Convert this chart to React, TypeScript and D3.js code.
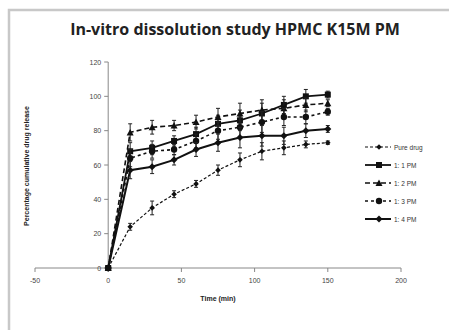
import React from 'react';
import * as d3 from 'd3';

const times = [0, 15, 30, 45, 60, 75, 90, 105, 120, 135, 150];
const seriesNames = ['Pure drug', '1: 1 PM', '1: 2 PM', '1: 3 PM', '1: 4 PM'];
const pureDrug = [0, 24, 35, 43, 49, 57, 63, 68, 70, 72, 73];
const pm11 = [0, 68, 70, 74, 78, 84, 86, 90, 95, 100, 101];
const pm12 = [0, 79, 82, 83, 85, 88, 90, 92, 93, 95, 96];
const pm13 = [0, 64, 68, 69, 74, 80, 82, 85, 88, 88, 91];
const pm14 = [0, 57, 59, 63, 69, 73, 76, 77, 77, 80, 81];
const errPure = [0, 2, 4, 2, 2, 3, 4, 5, 4, 2, 1];
const errPm = [0, 5, 4, 3, 4, 5, 6, 6, 5, 4, 2];
const xTicks = [-50, 0, 50, 100, 150, 200];
const yTicks = [0, 20, 40, 60, 80, 100, 120];

const styles = [
  { dash: '3,2', width: 1.2, marker: 'diamondSmall' },
  { dash: null, width: 1.8, marker: 'square' },
  { dash: '5,3', width: 1.6, marker: 'triangle' },
  { dash: '3,3', width: 1.6, marker: 'circle' },
  { dash: null, width: 2, marker: 'diamond' },
];

const Marker = ({ type, x, y }) => {
  if (type === 'square') return <rect x={x - 3} y={y - 3} width={6} height={6} fill="#111" />;
  if (type === 'triangle') return <path d={`M${x},${y - 3.5}L${x + 3.5},${y + 3}L${x - 3.5},${y + 3}Z`} fill="#111" />;
  if (type === 'circle') return <circle cx={x} cy={y} r={3.2} fill="#111" />;
  if (type === 'diamondSmall') return <path d={`M${x},${y - 2.8}L${x + 2.8},${y}L${x},${y + 2.8}L${x - 2.8},${y}Z`} fill="#111" />;
  return <path d={`M${x},${y - 3.5}L${x + 3.5},${y}L${x},${y + 3.5}L${x - 3.5},${y}Z`} fill="#111" />;
};

export default function App() {
  const x = d3.scaleLinear().domain([-50, 200]).range([35, 401]);
  const y = d3.scaleLinear().domain([0, 120]).range([268, 62]);
  const allSeries = [pureDrug, pm11, pm12, pm13, pm14];
  const errs = [errPure, errPm, errPm, errPm, errPm];
  const line = d3.line<number>().x((d, i) => x(times[i])).y(d => y(d));
  const font = 'Liberation Sans, Arial, sans-serif';

  return (
    <svg width={449} height={330} style={{ position: 'absolute', left: 0, top: 0 }}>
      <rect x={0} y={0} width={449} height={330} fill="#fff" />
      <rect x={9} y={10} width={442} height={324} fill="none" stroke="#c8c8c8" strokeWidth={2.5} />
      <text x={235} y={35} textAnchor="middle" fontFamily="Open Sans, sans-serif" fontWeight={700} fontSize={16} fill="#222">
        In-vitro dissolution study HPMC K15M PM
      </text>

      {/* axes */}
      <line x1={x(0)} x2={x(0)} y1={y(120)} y2={y(0)} stroke="#888" strokeWidth={1} />
      <line x1={x(-50)} x2={x(200)} y1={y(0)} y2={y(0)} stroke="#888" strokeWidth={1} />
      {yTicks.map(t => (
        <g key={'y' + t}>
          <line x1={x(0) - 4} x2={x(0)} y1={y(t)} y2={y(t)} stroke="#888" />
          <text x={x(0) - 7} y={y(t) + 2.5} textAnchor="end" fontFamily={font} fontSize={7} fill="#444">{t}</text>
        </g>
      ))}
      {xTicks.map(t => (
        <g key={'x' + t}>
          <line x1={x(t)} x2={x(t)} y1={y(0)} y2={y(0) + 4} stroke="#888" />
          <text x={x(t)} y={y(0) + 15} textAnchor="middle" fontFamily={font} fontSize={7} fill="#444">{t}</text>
        </g>
      ))}
      <text x={218} y={301} textAnchor="middle" fontFamily={font} fontWeight={700} fontSize={7} fill="#222">Time (min)</text>
      <text transform="translate(29,166) rotate(-90)" textAnchor="middle" fontFamily={font} fontWeight={700} fontSize={7} fill="#222">
        Percentage cumulative drug release
      </text>

      {/* series */}
      {allSeries.map((s, k) => (
        <g key={'s' + k}>
          {s.map((v, i) => errs[k][i] > 0 && (
            <g key={i} stroke="#222" strokeWidth={1}>
              <line x1={x(times[i])} x2={x(times[i])} y1={y(v + errs[k][i])} y2={y(v - errs[k][i])} />
              <line x1={x(times[i]) - 2} x2={x(times[i]) + 2} y1={y(v + errs[k][i])} y2={y(v + errs[k][i])} />
              <line x1={x(times[i]) - 2} x2={x(times[i]) + 2} y1={y(v - errs[k][i])} y2={y(v - errs[k][i])} />
            </g>
          ))}
          <path d={line(s) || ''} fill="none" stroke="#111" strokeWidth={styles[k].width}
            strokeDasharray={styles[k].dash || undefined} />
          {s.map((v, i) => <Marker key={i} type={styles[k].marker} x={x(times[i])} y={y(v)} />)}
        </g>
      ))}

      {/* legend */}
      {seriesNames.map((n, k) => {
        const ly = 147 + k * 18;
        return (
          <g key={'l' + k}>
            <line x1={365} x2={391} y1={ly} y2={ly} stroke="#111" strokeWidth={styles[k].width}
              strokeDasharray={styles[k].dash || undefined} />
            <Marker type={styles[k].marker} x={379} y={ly} />
            <text x={394} y={ly + 2.5} fontFamily={font} fontSize={6.5} fill="#333">{n}</text>
          </g>
        );
      })}
    </svg>
  );
}
